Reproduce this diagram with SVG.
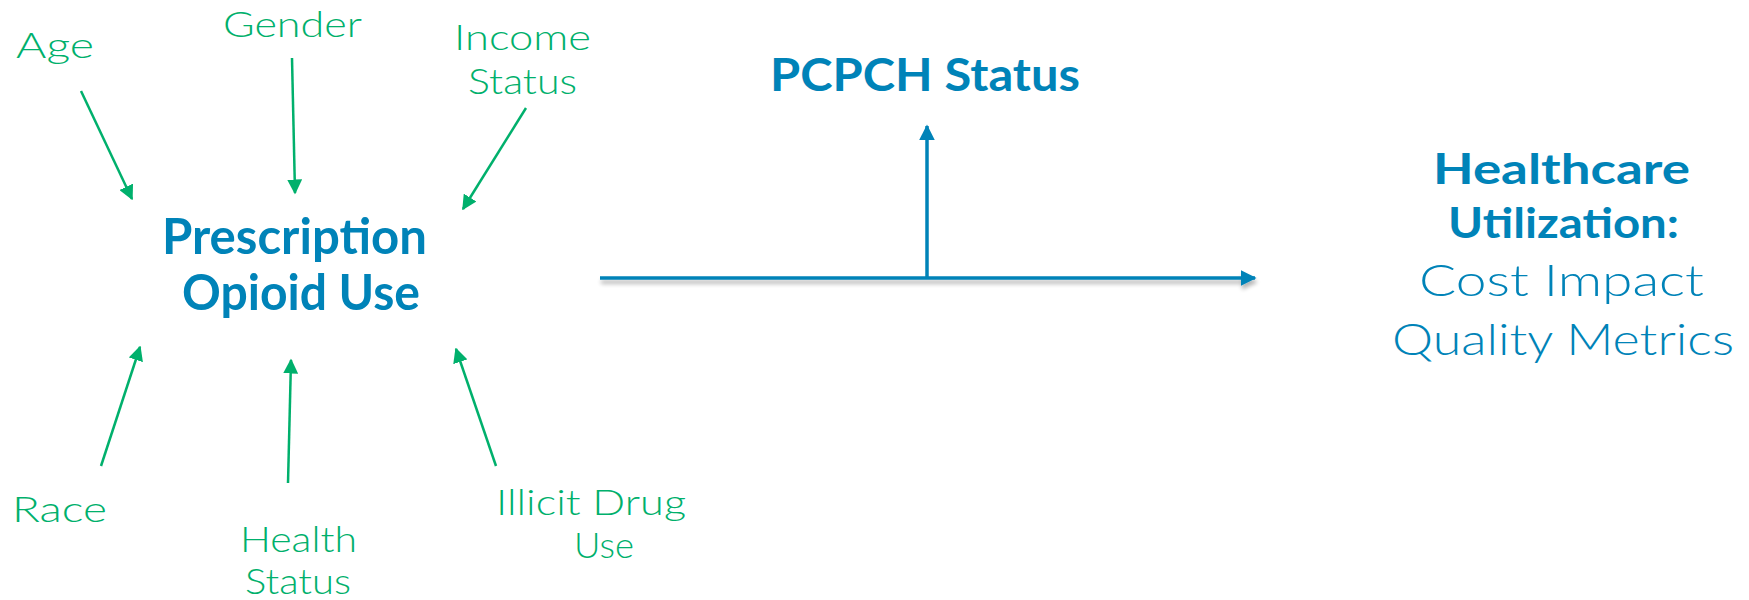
<svg xmlns="http://www.w3.org/2000/svg" width="1749" height="600" viewBox="0 0 1749 600">
<defs>
<style>
.g{font-family:Lato,"Open Sans",sans-serif;font-weight:300;font-size:36px;fill:#00B06C;}
.bb{font-family:Lato,"Open Sans",sans-serif;font-weight:700;fill:#0083B8;}
.bl{font-family:Lato,"Open Sans",sans-serif;font-weight:300;fill:#0083B8;}
.ga{stroke:#00B06C;stroke-width:2.5;fill:none;marker-end:url(#mg);}
.ba{stroke:#0083B8;stroke-width:3.5;fill:none;marker-end:url(#mb);}
</style>
<marker id="mg" viewBox="0 0 10 10" refX="9" refY="5" markerWidth="6" markerHeight="6" orient="auto" markerUnits="strokeWidth">
<path d="M0,0 L10,5 L0,10 z" fill="#00B06C"/>
</marker>
<marker id="mb" viewBox="0 0 10 10" refX="9" refY="5" markerWidth="4.5" markerHeight="4.5" orient="auto" markerUnits="strokeWidth">
<path d="M0,0 L10,5 L0,10 z" fill="#0083B8"/>
</marker>
<filter id="sh" filterUnits="userSpaceOnUse" x="580" y="260" width="700" height="45">
<feGaussianBlur in="SourceAlpha" stdDeviation="2"/>
<feOffset dx="1" dy="4" result="b"/>
<feComponentTransfer><feFuncA type="linear" slope="0.3"/></feComponentTransfer>
<feMerge><feMergeNode/><feMergeNode in="SourceGraphic"/></feMerge>
</filter>
</defs>
<rect width="1749" height="600" fill="#ffffff"/>
<g id="connectors">
<line class="ga" x1="81" y1="91" x2="132" y2="199"/>
<line class="ga" x1="292" y1="58" x2="295" y2="193"/>
<line class="ga" x1="526" y1="108" x2="463" y2="209"/>
<line class="ga" x1="101" y1="466" x2="140" y2="347"/>
<line class="ga" x1="288" y1="483" x2="291" y2="360"/>
<line class="ga" x1="496" y1="466" x2="456" y2="349"/>
<g filter="url(#sh)">
<line class="ba" x1="600" y1="278" x2="1255" y2="278"/>
</g>
<line class="ba" x1="927" y1="278" x2="927" y2="126"/>
</g>
<g id="age"><text class="g" x="16" y="58" textLength="78" lengthAdjust="spacingAndGlyphs">Age</text></g>
<g id="gender"><text class="g" x="223" y="37" textLength="139" lengthAdjust="spacingAndGlyphs">Gender</text></g>
<g id="income"><text class="g" x="454" y="50" textLength="137" lengthAdjust="spacingAndGlyphs">Income</text><text class="g" x="468" y="94" textLength="109" lengthAdjust="spacingAndGlyphs">Status</text></g>
<g id="race"><text class="g" x="12" y="522" textLength="95" lengthAdjust="spacingAndGlyphs">Race</text></g>
<g id="health"><text class="g" x="240" y="552" textLength="117" lengthAdjust="spacingAndGlyphs">Health</text><text class="g" x="245" y="594" textLength="106" lengthAdjust="spacingAndGlyphs">Status</text></g>
<g id="illicit"><text class="g" x="496" y="515" textLength="190" lengthAdjust="spacingAndGlyphs">Illicit Drug</text><text class="g" x="574" y="558" textLength="60" lengthAdjust="spacingAndGlyphs">Use</text></g>
<g id="opioid"><text class="bb" font-size="50" x="162" y="254" textLength="265" lengthAdjust="spacingAndGlyphs">Prescription</text><text class="bb" font-size="50" x="182" y="310" textLength="238" lengthAdjust="spacingAndGlyphs">Opioid Use</text></g>
<g id="pcpch"><text class="bb" font-size="46" x="770" y="91" textLength="310" lengthAdjust="spacingAndGlyphs">PCPCH Status</text></g>
<g id="utilization"><text class="bb" font-size="42" x="1433" y="184" textLength="257" lengthAdjust="spacingAndGlyphs">Healthcare</text><text class="bb" font-size="42" x="1448" y="238" textLength="231" lengthAdjust="spacingAndGlyphs">Utilization:</text><text class="bl" font-size="44" x="1419" y="296" textLength="285" lengthAdjust="spacingAndGlyphs">Cost Impact</text><text class="bl" font-size="44" x="1392" y="355" textLength="342" lengthAdjust="spacingAndGlyphs">Quality Metrics</text></g>
</svg>
